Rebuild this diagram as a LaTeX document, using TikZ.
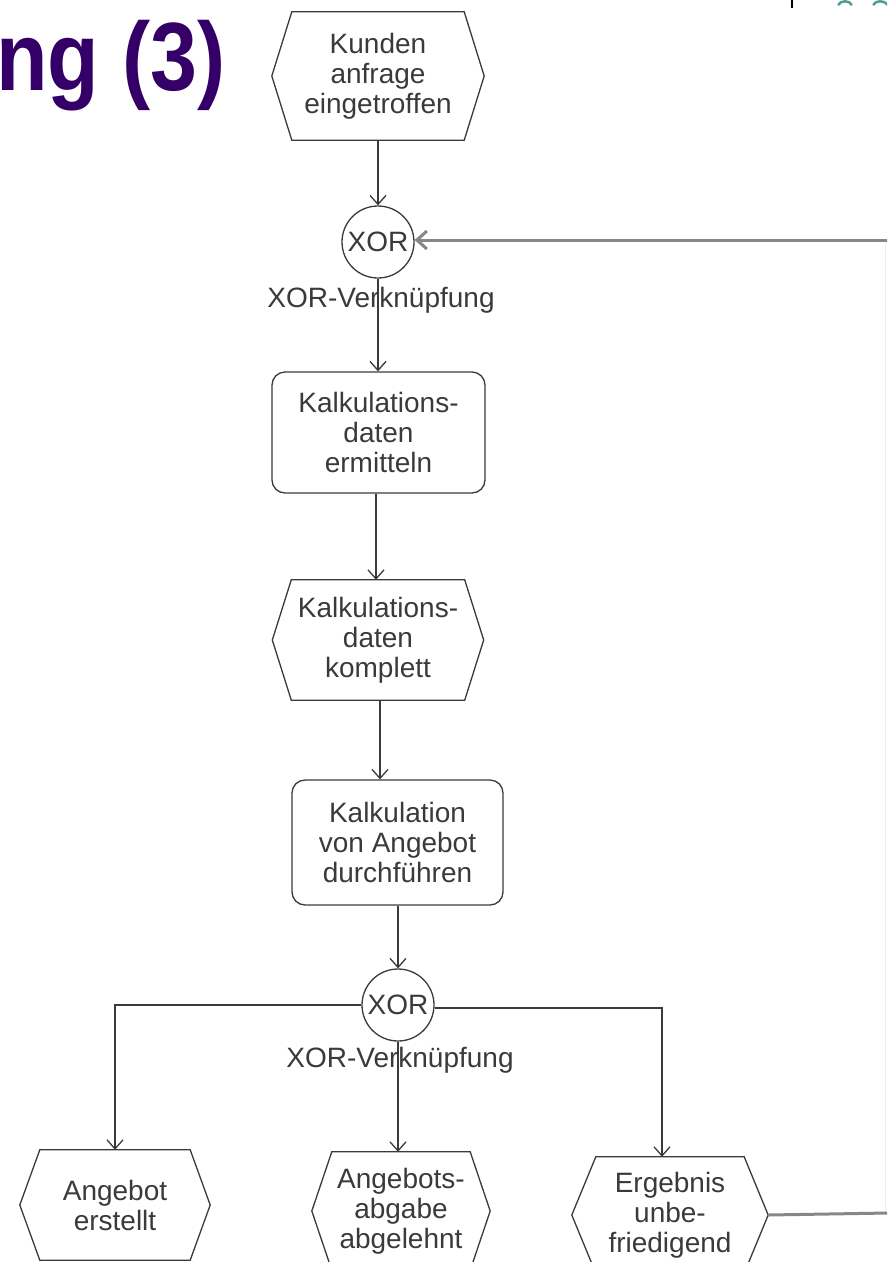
\documentclass[tikz,border=0pt]{standalone}
\usepackage{fontspec}
\usepackage{graphicx}
\setmainfont{Liberation Sans}
\usetikzlibrary{arrows.meta}
\definecolor{ink}{RGB}{58,58,58}
\definecolor{titlepurple}{RGB}{52,0,104}
\definecolor{loopgray}{RGB}{135,135,135}
\definecolor{decoteal}{RGB}{80,155,150}

% frame of an event: hexagon with pointed left and right ends
\newcommand\evframe[2]{%
  \draw[evline] ([xshift=#2pt]#1.north west) -- ([xshift=-#2pt]#1.north east)
    -- (#1.east) -- ([xshift=-#2pt]#1.south east) -- ([xshift=#2pt]#1.south west)
    -- (#1.west) -- cycle;}

\begin{document}
\begin{tikzpicture}[x=1pt,y=-1pt,
  lbl/.style={font=\fontsize{28}{30}\selectfont, text=ink, align=center},
  evbox/.style={lbl, inner sep=0pt},
  evline/.style={draw=ink, line width=1.3pt, line join=miter},
  fnbox/.style={lbl, draw=ink, line width=1.3pt, rounded corners=13pt, inner sep=0pt},
  xorgate/.style={lbl, draw=ink, line width=1.3pt, circle, minimum size=72pt, inner sep=0pt},
  conn/.style={draw=ink, line width=1.3pt, -{Straight Barb[length=9pt,width=16pt]}},
  loopline/.style={draw=loopgray, line width=3pt},
]
\useasboundingbox (0,0) rectangle (887,1262);
\clip (0,0) rectangle (887,1262);

% slide heading fragment
\node[anchor=base east, text=titlepurple, inner sep=0pt,
      font=\fontsize{97}{100}\selectfont\bfseries] (title) at (226,90)
      {\scalebox{0.87}[1]{ng (3)}};

% slide decorations at the top edge
\draw[black, line width=1.2pt] (792,0) -- (792,8);
\draw[decoteal, line width=2.5pt] (838,5) .. controls (841,0) and (849,0) .. (852,5);
\draw[decoteal, line width=2.5pt] (873,5) .. controls (876,0) and (884,0) .. (888,5);

% events and functions
\node[evbox, minimum width=212pt, minimum height=128pt] (e1) at (378,76)
  {Kunden\\anfrage\\eingetroffen};
\evframe{e1}{20}

\node[xorgate] (x1) at (378,242) {XOR};
\node[lbl, anchor=center] (x1lbl) at (381,300) {XOR-Verknüpfung};

\node[fnbox, minimum width=213pt, minimum height=121pt] (f1) at (378.5,432.5)
  {Kalkulations-\\daten\\ermitteln};

\node[evbox, minimum width=211pt, minimum height=120pt] (e2) at (378,640)
  {Kalkulations-\\daten\\komplett};
\evframe{e2}{19}

\node[fnbox, minimum width=211pt, minimum height=125pt] (f2) at (397.5,842.5)
  {Kalkulation\\von Angebot\\durchführen};

\node[xorgate] (x2) at (398,1005) {XOR};
\node[lbl, anchor=center] (x2lbl) at (400,1060) {XOR-Verknüpfung};

\node[evbox, minimum width=190pt, minimum height=110pt] (ea) at (115,1205)
  {Angebot\\erstellt};
\evframe{ea}{20}

\node[evbox, minimum width=178pt, minimum height=118pt] (eb) at (401,1211)
  {Angebots-\\abgabe\\abgelehnt};
\evframe{eb}{20}

\node[evbox, minimum width=196pt, minimum height=116pt] (ec) at (670,1215)
  {Ergebnis\\unbe-\\friedigend};
\evframe{ec}{24}

% control flow
\draw[conn] (e1.south) -- (x1.north);
\draw[conn] (x1.south) -- (x1.south |- f1.north);
\draw[conn] (f1.south -| 376,0) -- (e2.north -| 376,0);
\draw[conn] (e2.south -| 380,0) -- (f2.north -| 380,0);
\draw[conn] (f2.south -| x2.north) -- (x2.north);

\draw[conn] (x2.west) -| (ea.north);
\draw[conn] (x2.south) -- (eb.north -| x2.south);
\draw[conn] ([yshift=-3pt]x2.east) -| (ec.north -| 662,0);

% feedback loop back to the first XOR
\coordinate (r1) at (888,1213);
\coordinate (r2) at (888,240);
\draw[loopgray!15, line width=1pt] (885.5,1213) -- (885.5,240);
\draw[loopline] (ec.east) -- (r1);
\draw[loopline, -{Straight Barb[length=10pt,width=18pt]}] (r2) -- (x1.east |- r2);
\end{tikzpicture}
\end{document}
